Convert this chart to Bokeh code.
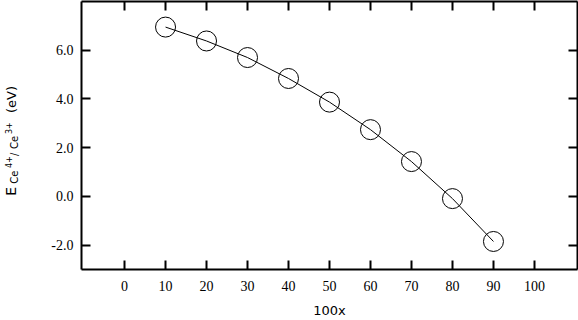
import math
from bokeh.plotting import figure
from bokeh.layouts import row
from bokeh.models import (LinearAxis, FixedTicker, NumeralTickFormatter, Range1d,
                          CustomJSTickFormatter)
from bokeh.core.properties import value
from bokeh.embed import file_html
from bokeh.resources import INLINE

# data
x_vals = [10, 20, 30, 40, 50, 60, 70, 80, 90]
y_vals = [6.95, 6.38, 5.70, 4.84, 3.87, 2.74, 1.43, -0.09, -1.85]
x_ticks = [0, 10, 20, 30, 40, 50, 60, 70, 80, 90, 100]
y_ticks = [-2, 0, 2, 4, 6]
x_label = "100x"

W, H = 578, 320
LW = 20  # width of y-label strip
TOP, BOTTOM = 1, 50
p = figure(width=W - LW, height=H, output_backend="svg", toolbar_location=None,
           x_range=Range1d(-10.5, 110.5), y_range=Range1d(-3, 8),
           x_axis_type=None, y_axis_type=None, title=None,
           min_border_left=81 - LW, min_border_right=1, min_border_top=TOP, min_border_bottom=BOTTOM)
p.grid.visible = False
p.outline_line_color = None
p.background_fill_color = "white"
p.border_fill_color = "white"

SERIF = "Liberation Serif"
SANS = "DejaVu Sans"

def style(ax, labels=True):
    ax.axis_line_width = 2
    ax.axis_line_color = "black"
    ax.major_tick_line_width = 2
    ax.major_tick_line_color = "black"
    ax.major_tick_in = 9
    ax.major_tick_out = 0
    ax.minor_tick_in = 0
    ax.minor_tick_out = 0
    if labels:
        ax.major_label_text_font = SERIF
        ax.major_label_text_font_size = "14px"
        ax.major_label_text_color = "black"
    else:
        ax.formatter = CustomJSTickFormatter(code="return '';")
        ax.major_label_standoff = 0
        ax.axis_label = None

xb = LinearAxis(ticker=FixedTicker(ticks=x_ticks))
style(xb)
xb.major_label_standoff = 11
xb.axis_label = x_label
xb.axis_label_text_font = SANS
xb.axis_label_text_font_size = "13px"
xb.axis_label_text_font_style = "normal"
xb.axis_label_standoff = 9
xb.axis_label_text_color = "black"
p.add_layout(xb, "below")

xt = LinearAxis(ticker=FixedTicker(ticks=x_ticks))
style(xt, labels=False)
p.add_layout(xt, "above")

yl = LinearAxis(ticker=FixedTicker(ticks=y_ticks), formatter=NumeralTickFormatter(format="0.0"))
style(yl)
yl.major_label_standoff = 8
p.add_layout(yl, "left")

yr = LinearAxis(ticker=FixedTicker(ticks=y_ticks))
style(yr, labels=False)
p.add_layout(yr, "right")

p.line(x_vals, y_vals, line_color="black", line_width=1)
p.scatter(x_vals, y_vals, size=20, fill_color=None, line_color="black", line_width=1)

# y-axis label strip; its frame is aligned with the main frame by the row layout,
# so its y range is expressed in canvas pixels measured from the bottom
q = figure(width=LW, height=H, output_backend="svg", toolbar_location=None,
           x_range=Range1d(0, LW), y_range=Range1d(BOTTOM, H - TOP), title=None,
           x_axis_type=None, y_axis_type=None,
           min_border_left=0, min_border_right=0, min_border_top=0, min_border_bottom=0)
q.grid.visible = False
q.outline_line_color = None
q.border_fill_color = "white"
q.background_fill_color = "white"

# text, font size, baseline x, start y (from bottom)
pieces = [
    ("E", 14, 10.5, 124),
    ("Ce", 10, 13.5, 136),
    ("4+", 8, 7.5, 152),
    ("/", 10, 13.5, 164),
    ("Ce", 10, 13.5, 171),
    ("3+", 8, 7.5, 186),
    ("(eV)", 13, 10.5, 207),
]
for txt, fs, bx, by in pieces:
    q.text(x=[bx], y=[by], text=[txt], angle=math.pi / 2,
           text_font=value(SANS), text_font_size=f"{fs}px", text_color="black",
           text_baseline="alphabetic", text_align="left")

layout = row(q, p, spacing=0)
open("out.html", "w").write(file_html(layout, INLINE))
